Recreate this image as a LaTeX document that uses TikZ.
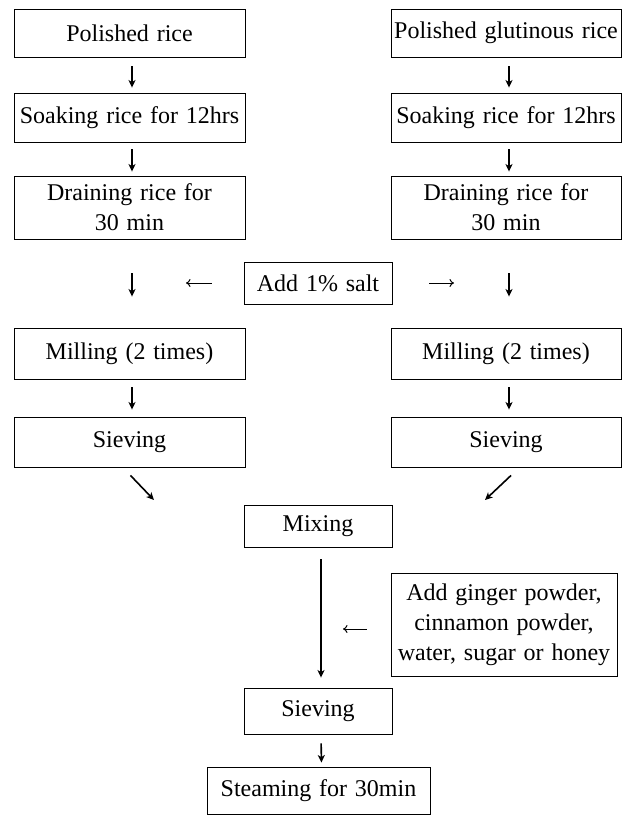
\documentclass[tikz,border=0pt]{standalone}
\usepackage{fontspec}
\setmainfont{Liberation Serif}[WordSpace=1.3]
\usetikzlibrary{arrows.meta}
\begin{document}
\begin{tikzpicture}[x=1pt,y=-1pt,
  box/.style={draw,line width=0.9pt,inner sep=0pt,align=center,font=\fontsize{24}{30}\selectfont},
  colbox/.style={box,minimum width=231pt},
  midbox/.style={box,minimum width=148pt},
  arr/.style={line width=1.6pt,-{Stealth[length=7.5pt,width=7pt,inset=2pt]}},
  harr/.style={line width=1pt,-{To[length=4.5pt,width=8pt]}}]
\useasboundingbox (0,0) rectangle (628,815);

% left column
\node[colbox,minimum height=48pt] (L1) at (129.5,33) {Polished rice};
\node[colbox,minimum height=49pt] (L2) at (129.5,117.5) {Soaking rice for 12hrs};
\node[colbox,minimum height=63pt] (L3) at (129.5,207.5) {Draining rice for\\30 min};
\node[colbox,minimum height=51pt] (L4) at (129.5,353.5) {Milling (2 times)};
\node[colbox,minimum height=50pt] (L5) at (129.5,442) {Sieving};
% right column
\node[colbox,minimum width=230pt,minimum height=48pt] (R1) at (506,33) {Polished glutinous rice};
\node[colbox,minimum width=230pt,minimum height=49pt] (R2) at (506,117.5) {Soaking rice for 12hrs};
\node[colbox,minimum width=230pt,minimum height=63pt] (R3) at (506,207.5) {Draining rice for\\30 min};
\node[colbox,minimum width=230pt,minimum height=51pt] (R4) at (506,353.5) {Milling (2 times)};
\node[colbox,minimum width=230pt,minimum height=50pt] (R5) at (506,442) {Sieving};
% middle
\node[midbox,minimum height=42pt] (salt) at (318,283) {Add 1\% salt};
\node[midbox,minimum height=42pt] (mix) at (318,526) {Mixing};
\node[box,minimum width=226pt,minimum height=103pt] (ginger) at (504,624.5) {Add ginger powder,\\cinnamon powder,\\water, sugar or honey};
\node[midbox,minimum height=46pt] (sv) at (318,711) {Sieving};
\node[box,minimum width=223pt,minimum height=47pt] (steam) at (318.5,790.5) {Steaming for 30min};

\coordinate (saltL) at (186,283);
\coordinate (saltR) at (454,283);
\coordinate (dL) at (154,500);
\coordinate (dR) at (485,500);
\coordinate (gL) at (343,629);

% left column arrows
\draw[arr,shorten <=9pt,shorten >=5pt] ([xshift=2.5pt]L1.south) -- ([xshift=2.5pt]L2.north);
\draw[arr,shorten <=7pt,shorten >=4pt] ([xshift=2.5pt]L2.south) -- ([xshift=2.5pt]L3.north);
\draw[arr,shorten <=34pt,shorten >=31pt] ([xshift=2.5pt]L3.south) -- ([xshift=2.5pt]L4.north);
\draw[arr,shorten <=8pt,shorten >=7pt] ([xshift=2.5pt]L4.south) -- ([xshift=2.5pt]L5.north);
% right column arrows
\draw[arr,shorten <=9pt,shorten >=5pt] ([xshift=3pt]R1.south) -- ([xshift=3pt]R2.north);
\draw[arr,shorten <=7pt,shorten >=4pt] ([xshift=3pt]R2.south) -- ([xshift=3pt]R3.north);
\draw[arr,shorten <=34pt,shorten >=31pt] ([xshift=3pt]R3.south) -- ([xshift=3pt]R4.north);
\draw[arr,shorten <=8pt,shorten >=7pt] ([xshift=3pt]R4.south) -- ([xshift=3pt]R5.north);
% salt arrows
\draw[harr,shorten <=32pt] (salt.west) -- (saltL);
\draw[harr,shorten <=37pt] (salt.east) -- (saltR);
% diagonal arrows
\draw[arr] ([shift={(1pt,-8pt)}]L5.south) -- (dL);
\draw[arr] ([shift={(5pt,-8pt)}]R5.south) -- (dR);
% mixing to sieving
\draw[arr,shorten <=12pt,shorten >=10pt] ([xshift=3pt]mix.south) -- ([xshift=3pt]sv.north);
\draw[harr,shorten <=24pt] ([yshift=-4.5pt]ginger.west) -- (gL);
\draw[arr,shorten <=9pt,shorten >=4pt] ([xshift=3pt]sv.south) -- ([xshift=3pt]steam.north);
\end{tikzpicture}
\end{document}
